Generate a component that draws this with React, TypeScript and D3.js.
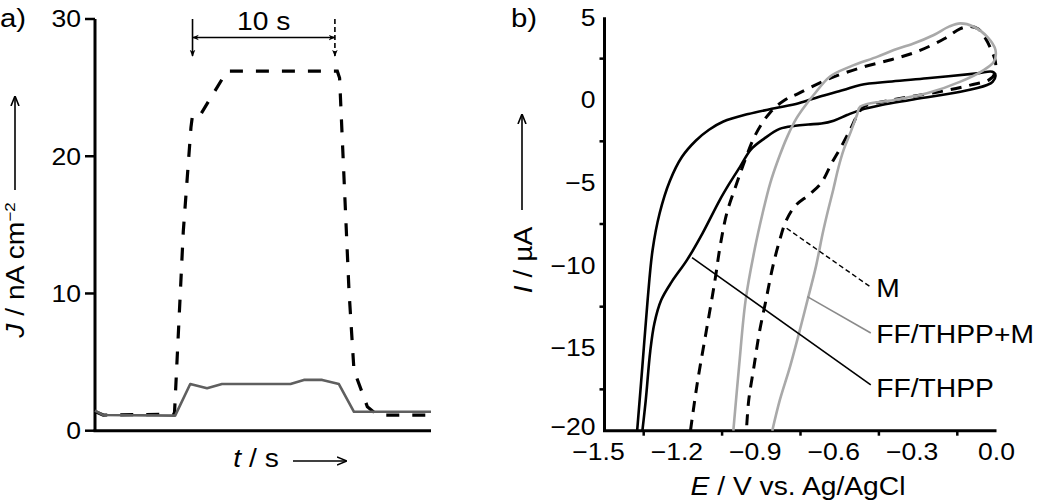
import React from "react";
import * as d3 from "d3";

// ---------- Panel a: photocurrent transients ----------
const tSolid = [0, 0.58, 5.63, 6.69, 7.87, 8.92, 13.73, 14.67, 15.96, 17.13, 18.19, 23.6];
const jSolid = [1.46, 1.14, 1.1, 3.4, 3.1, 3.4, 3.4, 3.7, 3.7, 3.4, 1.38, 1.38];
const tDashed = [0, 0.58, 5.58, 6.2, 6.74, 6.85, 7.39, 9.27, 17.02, 17.18, 17.84, 18.19, 19.13, 19.84, 23.6];
const jDashed = [1.4, 1.14, 1.2, 14.5, 22.1, 23.0, 23.0, 26.2, 26.2, 25.7, 10.2, 4.4, 1.75, 1.14, 1.14];
const aYTicks = [0, 10, 20, 30];
const bracketT = [6.85, 16.85];

// ---------- Panel b: cyclic voltammograms ----------
const eFF = [-1.375, -1.355, -1.335, -1.316, -1.289, -1.25, -1.204, -1.15, -1.1, -1.045, -0.95, -0.849, -0.757, -0.678, -0.586, -0.521, -0.4, -0.266, -0.074, -0.016, -0.004, -0.015, -0.036, -0.138, -0.33, -0.44, -0.52, -0.572, -0.623, -0.67, -0.72, -0.77, -0.83, -0.89, -0.94, -0.981, -1.02, -1.059, -1.125, -1.184, -1.243, -1.283, -1.309, -1.325, -1.342, -1.355];
const iFF = [-20, -16.1, -12.1, -9.07, -6.85, -4.9, -3.45, -2.45, -1.8, -1.3, -0.85, -0.5, -0.2, 0.2, 0.6, 0.91, 1.12, 1.31, 1.61, 1.71, 1.5, 1.1, 0.91, 0.5, 0.0, -0.3, -0.6, -0.91, -1.25, -1.42, -1.48, -1.56, -1.75, -2.35, -3.0, -4.03, -5.0, -6.05, -8.06, -9.67, -11.0, -12.1, -13.5, -15.2, -18.14, -20];

const eM = [-1.171, -1.145, -1.112, -1.079, -1.057, -1.032, -0.994, -0.962, -0.923, -0.866, -0.81, -0.757, -0.652, -0.52, -0.4, -0.3, -0.2, -0.14, -0.1, -0.07, -0.045, -0.022, -0.004, -0.006, -0.03, -0.1, -0.2, -0.33, -0.419, -0.507, -0.535, -0.56, -0.59, -0.63, -0.67, -0.715, -0.77, -0.805, -0.83, -0.856, -0.882, -0.908, -0.928, -0.948, -0.957];
const iM = [-20, -17.13, -14.11, -11.08, -8.8, -6.85, -5.04, -3.63, -2.12, -0.75, 0.0, 0.4, 1.21, 1.95, 2.45, 2.95, 3.7, 4.3, 4.45, 4.3, 3.8, 3.1, 2.3, 1.6, 1.2, 0.9, 0.55, 0.2, -0.06, -0.4, -1.0, -1.8, -2.7, -3.8, -5.0, -5.7, -6.4, -7.3, -8.5, -10.08, -12.09, -14.11, -16.12, -18.14, -20];

const eFM = [-1.007, -0.985, -0.96, -0.925, -0.895, -0.866, -0.836, -0.8, -0.765, -0.73, -0.7, -0.638, -0.56, -0.455, -0.393, -0.32, -0.24, -0.18, -0.138, -0.087, -0.036, -0.004, -0.01, -0.049, -0.138, -0.266, -0.393, -0.521, -0.534, -0.56, -0.585, -0.605, -0.625, -0.645, -0.665, -0.691, -0.723, -0.749, -0.79, -0.829, -0.858];
const iFM = [-20, -16.1, -12.1, -9.0, -6.85, -5.04, -3.63, -2.2, -1.1, -0.3, 0.3, 1.41, 2.02, 2.62, 3.02, 3.4, 3.93, 4.45, 4.63, 4.43, 3.83, 3.02, 2.32, 1.81, 1.11, 0.4, 0.0, -0.4, -0.91, -2.02, -3.02, -4.1, -5.44, -6.7, -8.06, -10.08, -12.09, -13.7, -16.12, -18.14, -20];

const bXLabels = [-1.5, -1.2, -0.9, -0.6, -0.3, 0.0];
const bXTicks = [-1.35, -1.05, -0.75, -0.45, -0.15];
const bYLabels = [5, 0, -5, -10, -15, -20];
const bYTicks = [2.5, -2.5, -7.5, -12.5, -17.5];

const legendNames = ["M", "FF/THPP+M", "FF/THPP"];
const legendLabelE = -0.46;
const legendLabelI = [-11.91, -14.69, -17.96];
const leaderFrom = [[-0.803, -7.76], [-0.724, -11.89], [-1.165, -9.53]];
const leaderTo = [[-0.481, -11.32], [-0.481, -14.09], [-0.481, -17.23]];

const FONT = "'Liberation Sans', Arial, Helvetica, sans-serif";
const GRAY = "#a9a9a9";
const DGRAY = "#5f5f5f";
const SX = 1.13;

function zip(xs: number[], ys: number[]): [number, number][] {
  return xs.map((x, i) => [x, ys[i]]);
}

function T(props: {
  x: number;
  y: number;
  size?: number;
  anchor?: string;
  rotate?: number;
  dy?: string;
  sx?: number;
  children: React.ReactNode;
}) {
  const { x, y, size = 25, anchor = "start", rotate = 0, dy, sx = SX, children } = props;
  return (
    <g transform={`translate(${x},${y}) rotate(${rotate}) scale(${sx},1)`}>
      <text textAnchor={anchor as any} fontSize={size} dy={dy}>
        {children}
      </text>
    </g>
  );
}

export default function App() {
  const xA = d3.scaleLinear().domain([0, 23.6]).range([95, 431]);
  const yA = d3.scaleLinear().domain([0, 30]).range([430.7, 19]);
  const xB = d3.scaleLinear().domain([-1.5, 0]).range([604.5, 996.5]);
  const yB = d3.scaleLinear().domain([-20, 5]).range([430.7, 17.3]);

  const lineA = d3.line<[number, number]>().x(d => xA(d[0])).y(d => yA(d[1]));
  const lineB = d3
    .line<[number, number]>()
    .x(d => xB(d[0]))
    .y(d => yB(d[1]))
    .curve(d3.curveCatmullRom.alpha(0.5));

  const tickFs = 23.5;
  const fmt = (v: number) => (v < 0 ? "\u2212" + Math.abs(v).toFixed(1) : v.toFixed(1));
  const fmtI = (v: number) => (v < 0 ? "\u2212" + Math.abs(v) : String(v));

  return (
    <svg
      width={1038}
      height={503}
      style={{ position: "absolute", left: 0, top: 0, background: "#fff" }}
      fontFamily={FONT}
    >
      <defs>
        <marker id="ah" viewBox="0 0 10 10" refX="9" refY="5" markerWidth="7" markerHeight="7" orient="auto-start-reverse" markerUnits="userSpaceOnUse">
          <path d="M0,1 L10,5 L0,9 L3,5 Z" fill="#000" />
        </marker>
        <marker id="ahBig" viewBox="0 0 10 10" refX="9" refY="5" markerWidth="10" markerHeight="10" orient="auto-start-reverse" markerUnits="userSpaceOnUse">
          <path d="M0,1 L10,5 L0,9" fill="none" stroke="#000" strokeWidth="1.6" />
        </marker>
      </defs>
      <rect width={1038} height={503} fill="#fff" />

      {/* ===== Panel a ===== */}
      <T x={0} y={27} size={26}>a)</T>
      <line x1={xA(0)} x2={xA(0)} y1={yA(30)} y2={yA(0)} stroke="#000" strokeWidth={3} />
      <line x1={xA(0) - 1.5} x2={xA(23.6)} y1={yA(0)} y2={yA(0)} stroke="#000" strokeWidth={3} />
      {aYTicks.map(v => (
        <g key={v}>
          <line x1={xA(0) - 10} x2={xA(0)} y1={yA(v)} y2={yA(v)} stroke="#000" strokeWidth={2.5} />
          <T x={xA(0) - 14} y={yA(v)} dy="0.36em" anchor="end" size={tickFs}>{v}</T>
        </g>
      ))}
      <T x={24} y={270} rotate={-90} anchor="middle">
        <tspan fontStyle="italic">J</tspan>
        <tspan> / nA cm</tspan>
        <tspan dy={-9} fontSize={15}>{"\u22122"}</tspan>
      </T>
      <line x1={15} x2={15} y1={190} y2={97} stroke="#000" strokeWidth={1.6} markerEnd="url(#ahBig)" />
      <T x={256} y={467} anchor="middle">
        <tspan fontStyle="italic">t</tspan>
        <tspan> / s</tspan>
      </T>
      <line x1={293} x2={346} y1={461} y2={461} stroke="#000" strokeWidth={1.6} markerEnd="url(#ahBig)" />

      {/* bracket */}
      <line x1={xA(bracketT[0])} x2={xA(bracketT[0])} y1={yA(30)} y2={yA(27.3)} stroke="#000" strokeWidth={1.6} markerEnd="url(#ah)" />
      <line x1={xA(bracketT[1])} x2={xA(bracketT[1])} y1={yA(30)} y2={yA(27.3)} stroke="#000" strokeWidth={1.6} strokeDasharray="5,3" markerEnd="url(#ah)" />
      <line x1={xA(bracketT[0])} x2={xA(bracketT[1])} y1={yA(28.65)} y2={yA(28.65)} stroke="#000" strokeWidth={1.6} markerStart="url(#ah)" markerEnd="url(#ah)" />
      <T x={xA((bracketT[0] + bracketT[1]) / 2)} y={yA(29.18)} anchor="middle">10 s</T>

      <path d={lineA(zip(tDashed, jDashed)) || ""} fill="none" stroke="#000" strokeWidth={3.2} strokeDasharray="13,13" />
      <path d={lineA(zip(tSolid, jSolid)) || ""} fill="none" stroke={DGRAY} strokeWidth={2.6} strokeLinejoin="round" />

      {/* ===== Panel b ===== */}
      <T x={511} y={27} size={26}>b)</T>
      <line x1={xB(-1.5)} x2={xB(-1.5)} y1={yB(5)} y2={yB(-20)} stroke="#000" strokeWidth={3} />
      <line x1={xB(-1.5) - 1.5} x2={xB(0)} y1={yB(-20)} y2={yB(-20)} stroke="#000" strokeWidth={3} />
      {bYTicks.map(v => (
        <line key={v} x1={xB(-1.5) - 5} x2={xB(-1.5)} y1={yB(v)} y2={yB(v)} stroke="#000" strokeWidth={2.5} />
      ))}
      {bYLabels.map(v => (
        <T key={v} x={xB(-1.5) - 9} y={yB(v) - (v === -20 ? 4 : 0)} dy="0.36em" anchor="end" size={tickFs}>{fmtI(v)}</T>
      ))}
      {bXTicks.map(v => (
        <line key={v} x1={xB(v)} x2={xB(v)} y1={yB(-20)} y2={yB(-20) + 5} stroke="#000" strokeWidth={2.5} />
      ))}
      {bXLabels.map(v => (
        <T key={v} x={xB(v) - (v < 0 ? 6 : 0)} y={460} anchor="middle" size={tickFs}>{fmt(v)}</T>
      ))}
      <T x={798} y={495} anchor="middle">
        <tspan fontStyle="italic">E</tspan>
        <tspan> / V vs. Ag/AgCl</tspan>
      </T>
      <T x={532} y={260} rotate={-90} anchor="middle">
        <tspan fontStyle="italic">I</tspan>
        <tspan> / {"\u00b5"}A</tspan>
      </T>
      <line x1={522} x2={522} y1={210} y2={115} stroke="#000" strokeWidth={1.6} markerEnd="url(#ahBig)" />

      <path d={lineB(zip(eFF, iFF)) || ""} fill="none" stroke="#000" strokeWidth={2.6} />
      <path d={lineB(zip(eM, iM)) || ""} fill="none" stroke="#000" strokeWidth={3} strokeDasharray="11,8" />
      <path d={lineB(zip(eFM, iFM)) || ""} fill="none" stroke={GRAY} strokeWidth={2.6} />

      <line x1={xB(leaderFrom[0][0])} y1={yB(leaderFrom[0][1])} x2={xB(leaderTo[0][0])} y2={yB(leaderTo[0][1])} stroke="#000" strokeWidth={1.4} strokeDasharray="5,3" />
      <line x1={xB(leaderFrom[1][0])} y1={yB(leaderFrom[1][1])} x2={xB(leaderTo[1][0])} y2={yB(leaderTo[1][1])} stroke="#8a8a8a" strokeWidth={1.6} />
      <line x1={xB(leaderFrom[2][0])} y1={yB(leaderFrom[2][1])} x2={xB(leaderTo[2][0])} y2={yB(leaderTo[2][1])} stroke="#000" strokeWidth={1.6} />
      {legendNames.map((n, i) => (
        <T key={n} x={xB(legendLabelE)} y={yB(legendLabelI[i])}>{n}</T>
      ))}
    </svg>
  );
}
